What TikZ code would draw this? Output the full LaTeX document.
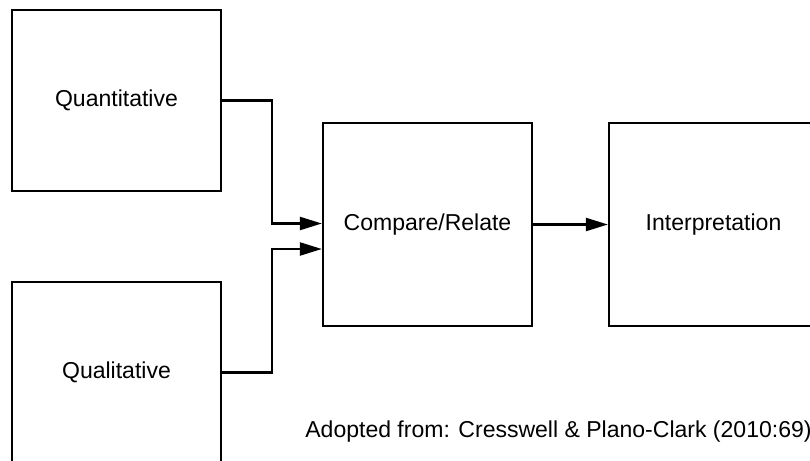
\documentclass[tikz,border=0pt]{standalone}
\usepackage{fontspec}
\setmainfont{Liberation Sans}
\usetikzlibrary{calc}
\usetikzlibrary{arrows.meta}
\tikzset{>={Triangle[length=0.44cm, width=0.26cm]}}
\tikzset{
  databox/.style={draw, line width=1.3pt, minimum width=4.18cm, minimum height=3.62cm,
    inner sep=0pt, font=\fontsize{13.1}{15}\selectfont},
  flow/.style={->, line width=1.3pt}
}

\begin{document}
\begin{tikzpicture}
    \pgfmathsetmacro\bw{4.18}
    \pgfmathsetmacro\bh{4.06}
    \useasboundingbox (0,0) rectangle (16.2,9.2);
    \clip (0,0) rectangle (16.2,9.2);
    \coordinate (Q1) at (2.33,7.19);
    \coordinate (Q2) at (2.33,1.75);
    \coordinate (C) at (8.55,4.71);
    \coordinate (I) at (14.27,4.71);
    \coordinate (J) at (5.44,0);

    % BOXES
    \node[databox] (quant) at (Q1) {Quantitative};
    \node[databox] (qual) at (Q2) {Qualitative};
    \node[databox, minimum height=\bh cm] (compare) at (C) {Compare/Relate};
    \node[databox, minimum height=\bh cm] (interp) at (I) {Interpretation};

    % ARROWS
    \draw[flow] (quant.east) -| (quant.east -| J) |- ([yshift=0.02cm]compare.west);
    \draw[flow] (qual.east) -| (qual.east -| J) |- ([yshift=-0.49cm]compare.west);
    \draw[flow] (compare.east) -- (interp.west);

    % SOURCE
    \node[anchor=west, inner sep=0pt, font=\fontsize{13.1}{15}\selectfont] (source) at (6.1,0.56)
        {Adopted from: Cresswell \& Plano-Clark (2010:69)};
\end{tikzpicture}
\end{document}
